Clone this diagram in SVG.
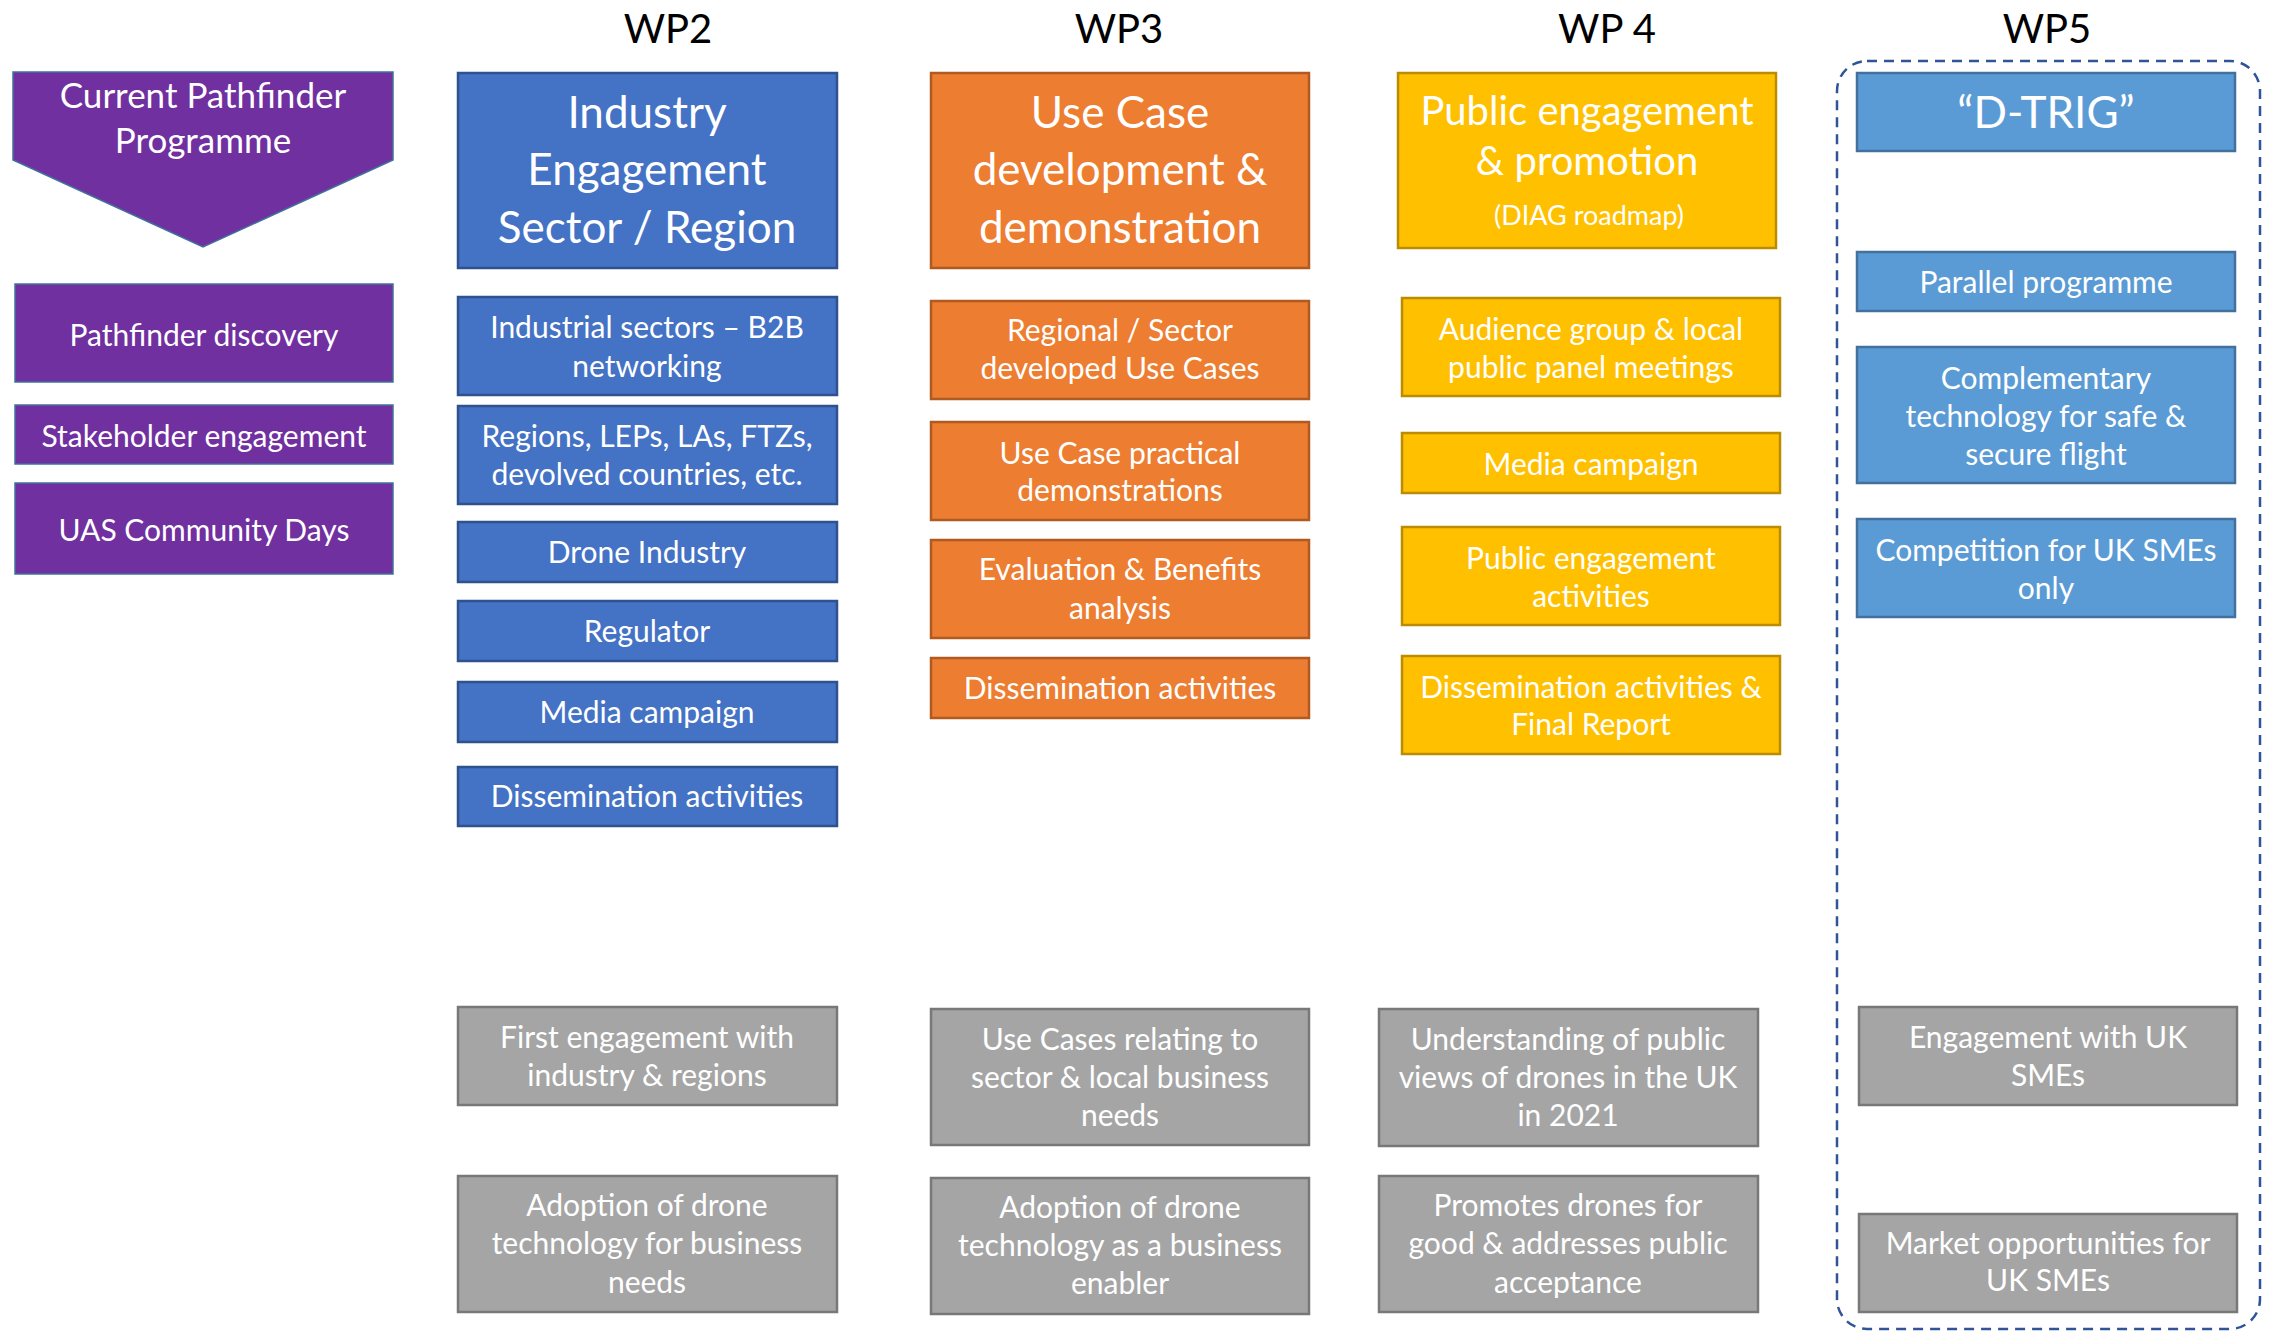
<svg xmlns="http://www.w3.org/2000/svg" width="2275" height="1331" viewBox="0 0 2275 1331">
<style>
text{font-family:Lato,"Open Sans","Liberation Sans",sans-serif;fill:#fff;text-anchor:middle}
.b{font-size:30px}
.h{font-size:44px}
.wp{font-size:40px;fill:#000}
.pur{fill:#7030A0;stroke:#41719C;stroke-width:1.5}
.blu{fill:#4472C4;stroke:#2F528F;stroke-width:2.5}
.org{fill:#ED7D31;stroke:#AE5A21;stroke-width:2.5}
.gld{fill:#FFC000;stroke:#BC8C00;stroke-width:2.5}
.lbl{fill:#5B9BD5;stroke:#41719C;stroke-width:2.5}
.gry{fill:#A5A5A5;stroke:#787878;stroke-width:2.5}
</style>
<rect width="2275" height="1331" fill="#fff"/>

<g id="labels">
<text class="wp" x="668" y="43">WP2</text>
<text class="wp" x="1119" y="43">WP3</text>
<text class="wp" x="1607" y="43">WP 4</text>
<text class="wp" x="2047" y="43">WP5</text>
</g>

<g id="wp5-frame">
<rect x="1837" y="61" width="423" height="1268" rx="30" fill="none" stroke="#2F5597" stroke-width="2.5" stroke-dasharray="10 7"/>
</g>

<g id="connectors"/>

<!-- Pathfinder column -->
<g id="pathfinder">
<polygon class="pur" points="13,72 393,72 393,160 203,247 13,160" stroke="#2F5597"/>
<text x="203" y="108" style="font-size:35px">Current Pathfinder</text>
<text x="203" y="153" style="font-size:35px">Programme</text>
</g>
<g id="pathfinder-discovery"><rect class="pur" x="15" y="284" width="378" height="98"/><text class="b" x="204" y="346">Pathfinder discovery</text></g>
<g id="stakeholder-engagement"><rect class="pur" x="15" y="405" width="378" height="59"/><text class="b" x="204" y="447">Stakeholder engagement</text></g>
<g id="uas-community-days"><rect class="pur" x="15" y="483" width="378" height="91"/><text class="b" x="204" y="541">UAS Community Days</text></g>

<!-- WP2 -->
<g id="wp2-header"><rect class="blu" x="458" y="73" width="379" height="195"/>
<text class="h" x="647" y="128">Industry</text><text class="h" x="647" y="185">Engagement</text><text class="h" x="647" y="243">Sector / Region</text></g>
<g id="wp2-industrial"><rect class="blu" x="458" y="297" width="379" height="98"/><text class="b" x="647" y="338">Industrial sectors – B2B</text><text class="b" x="647" y="377">networking</text></g>
<g id="wp2-regions"><rect class="blu" x="458" y="406" width="379" height="98"/><text class="b" x="647" y="447">Regions, LEPs, LAs, FTZs,</text><text class="b" x="647" y="485">devolved countries, etc.</text></g>
<g id="wp2-drone"><rect class="blu" x="458" y="522" width="379" height="60"/><text class="b" x="647" y="563">Drone Industry</text></g>
<g id="wp2-regulator"><rect class="blu" x="458" y="601" width="379" height="60"/><text class="b" x="647" y="642">Regulator</text></g>
<g id="wp2-media"><rect class="blu" x="458" y="682" width="379" height="60"/><text class="b" x="647" y="723">Media campaign</text></g>
<g id="wp2-dissemination"><rect class="blu" x="458" y="767" width="379" height="59"/><text class="b" x="647" y="807">Dissemination activities</text></g>
<g id="wp2-first"><rect class="gry" x="458" y="1007" width="379" height="98"/><text class="b" x="647" y="1048">First engagement with</text><text class="b" x="647" y="1086">industry &amp; regions</text></g>
<g id="wp2-adoption"><rect class="gry" x="458" y="1176" width="379" height="136"/><text class="b" x="647" y="1216">Adoption of drone</text><text class="b" x="647" y="1254">technology for business</text><text class="b" x="647" y="1293">needs</text></g>

<!-- WP3 -->
<g id="wp3-header"><rect class="org" x="931" y="73" width="378" height="195"/>
<text class="h" x="1120" y="128">Use Case</text><text class="h" x="1120" y="185">development &amp;</text><text class="h" x="1120" y="243">demonstration</text></g>
<g id="wp3-regional"><rect class="org" x="931" y="301" width="378" height="98"/><text class="b" x="1120" y="341">Regional / Sector</text><text class="b" x="1120" y="379">developed Use Cases</text></g>
<g id="wp3-practical"><rect class="org" x="931" y="422" width="378" height="98"/><text class="b" x="1120" y="464">Use Case practical</text><text class="b" x="1120" y="501">demonstrations</text></g>
<g id="wp3-evaluation"><rect class="org" x="931" y="540" width="378" height="98"/><text class="b" x="1120" y="580">Evaluation &amp; Benefits</text><text class="b" x="1120" y="619">analysis</text></g>
<g id="wp3-dissemination"><rect class="org" x="931" y="658" width="378" height="60"/><text class="b" x="1120" y="699">Dissemination activities</text></g>
<g id="wp3-usecases"><rect class="gry" x="931" y="1009" width="378" height="136"/><text class="b" x="1120" y="1050">Use Cases relating to</text><text class="b" x="1120" y="1088">sector &amp; local business</text><text class="b" x="1120" y="1126">needs</text></g>
<g id="wp3-adoption"><rect class="gry" x="931" y="1178" width="378" height="136"/><text class="b" x="1120" y="1218">Adoption of drone</text><text class="b" x="1120" y="1256">technology as a business</text><text class="b" x="1120" y="1294">enabler</text></g>

<!-- WP4 -->
<g id="wp4-header"><rect class="gld" x="1398" y="73" width="378" height="175"/>
<text x="1587" y="125" style="font-size:40px">Public engagement</text><text x="1587" y="175" style="font-size:40px">&amp; promotion</text><text x="1589" y="225" style="font-size:27px">(DIAG roadmap)</text></g>
<g id="wp4-audience"><rect class="gld" x="1402" y="298" width="378" height="98"/><text class="b" x="1591" y="340">Audience group &amp; local</text><text class="b" x="1591" y="378">public panel meetings</text></g>
<g id="wp4-media"><rect class="gld" x="1402" y="433" width="378" height="60"/><text class="b" x="1591" y="475">Media campaign</text></g>
<g id="wp4-public"><rect class="gld" x="1402" y="527" width="378" height="98"/><text class="b" x="1591" y="569">Public engagement</text><text class="b" x="1591" y="607">activities</text></g>
<g id="wp4-dissemination"><rect class="gld" x="1402" y="656" width="378" height="98"/><text class="b" x="1591" y="698">Dissemination activities &amp;</text><text class="b" x="1591" y="735">Final Report</text></g>
<g id="wp4-understanding"><rect class="gry" x="1379" y="1009" width="379" height="137"/><text class="b" x="1568" y="1050">Understanding of public</text><text class="b" x="1568" y="1088">views of drones in the UK</text><text class="b" x="1568" y="1126">in 2021</text></g>
<g id="wp4-promotes"><rect class="gry" x="1379" y="1176" width="379" height="136"/><text class="b" x="1568" y="1216">Promotes drones for</text><text class="b" x="1568" y="1254">good &amp; addresses public</text><text class="b" x="1568" y="1293">acceptance</text></g>

<!-- WP5 -->
<g id="wp5-header"><rect class="lbl" x="1857" y="73" width="378" height="78"/><text x="2046" y="128" style="font-size:44px">“D-TRIG”</text></g>
<g id="wp5-parallel"><rect class="lbl" x="1857" y="252" width="378" height="59"/><text class="b" x="2046" y="293">Parallel programme</text></g>
<g id="wp5-complementary"><rect class="lbl" x="1857" y="347" width="378" height="136"/><text class="b" x="2046" y="389">Complementary</text><text class="b" x="2046" y="427">technology for safe &amp;</text><text class="b" x="2046" y="465">secure flight</text></g>
<g id="wp5-competition"><rect class="lbl" x="1857" y="519" width="378" height="98"/><text class="b" x="2046" y="561">Competition for UK SMEs</text><text class="b" x="2046" y="599">only</text></g>
<g id="wp5-engagement"><rect class="gry" x="1859" y="1007" width="378" height="98"/><text class="b" x="2048" y="1048">Engagement with UK</text><text class="b" x="2048" y="1086">SMEs</text></g>
<g id="wp5-market"><rect class="gry" x="1859" y="1214" width="378" height="98"/><text class="b" x="2048" y="1254">Market opportunities for</text><text class="b" x="2048" y="1291">UK SMEs</text></g>
</svg>
